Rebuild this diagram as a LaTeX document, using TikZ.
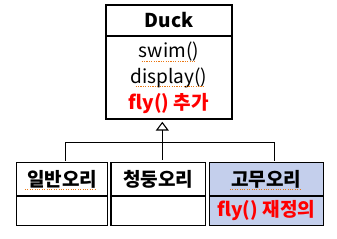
\documentclass[tikz,border=0pt]{standalone}
\usepackage{fontspec}
\setmainfont{Noto Sans CJK KR}
\definecolor{rubber}{RGB}{196,207,236}
\definecolor{squig}{RGB}{235,120,20}
\usetikzlibrary{positioning,calc}

\begin{document}
\begin{tikzpicture}[x=0.75pt,y=-0.75pt,
    cls/.style={draw,line width=1pt,inner sep=0pt,font=\fontsize{14.3}{16}\selectfont},
    link/.style={draw,line width=0.8pt},
    squigline/.style={squig,densely dotted,line width=0.8pt}]
  \useasboundingbox (0,0) rectangle (337,239);

  %% Duck (top)
  \node[cls,minimum width=126*0.75pt,minimum height=31*0.75pt,font=\fontsize{14.3}{16}\selectfont\bfseries]
        (duck) at (169,20.5) {Duck};
  \node[cls,minimum width=126*0.75pt,minimum height=83*0.75pt] (duckops) at (169,77.5) {};
  \node[font=\fontsize{14.3}{16}\selectfont] (swim) at (169,52) {swim()};
  \node[font=\fontsize{14.3}{16}\selectfont] (disp) at (169,78) {display()};
  \node[font=\fontsize{14.3}{16}\selectfont\bfseries,text=red] (fly) at (169,104) {fly()\ 추가};
  \draw[squigline] (141.7,61.5) -- (195,61.5);
  \draw[squigline] (135.7,86.5) -- (203.3,86.5);

  %% subclasses (bottom)
  \node[cls,minimum width=91*0.75pt,minimum height=33.3*0.75pt,font=\fontsize{14.3}{16}\selectfont\bfseries]
        (plain) at (62.2,179.3) {일반오리};
  \node[cls,minimum width=91*0.75pt,minimum height=29.3*0.75pt] (plainops) at (62.2,210.7) {};
  \node[cls,minimum width=94.7*0.75pt,minimum height=33.3*0.75pt,font=\fontsize{14.3}{16}\selectfont\bfseries]
        (mallard) at (158.3,179.3) {청둥오리};
  \node[cls,minimum width=94.7*0.75pt,minimum height=29.3*0.75pt] (mallardops) at (158.3,210.7) {};
  \node[cls,fill=rubber,minimum width=114*0.75pt,minimum height=33.3*0.75pt,font=\fontsize{14.3}{16}\selectfont\bfseries]
        (rubber) at (266.3,179.3) {고무오리};
  \node[cls,fill=rubber,minimum width=114*0.75pt,minimum height=29.3*0.75pt,
        font=\fontsize{14.3}{16}\selectfont\bfseries,text=red] (rubberops) at (266.3,210.7) {fly()\ 재정의};
  \draw[squigline] (25,189.5) -- (95,189.5);
  \draw[squigline] (230,189.5) -- (300,189.5);

  %% inheritance
  \coordinate (apex) at (162.3,122.7);
  \coordinate (base) at (162.3,130);
  \coordinate (jl) at (65.3,142.3);
  \coordinate (jr) at (274.3,142.3);
  \draw[link,fill=white] (apex) -- ($(base)+(-5.5,0)$) -- ($(base)+(5.5,0)$) -- cycle;
  \draw[link] (base) -- ($(base |- mallard.north)+(0,-2)$);
  \draw[link] ($(jl |- plain.north)+(0,-1)$) -- (jl) -- (jr) -- ($(jr |- rubber.north)+(0,-1)$);
\end{tikzpicture}
\end{document}
